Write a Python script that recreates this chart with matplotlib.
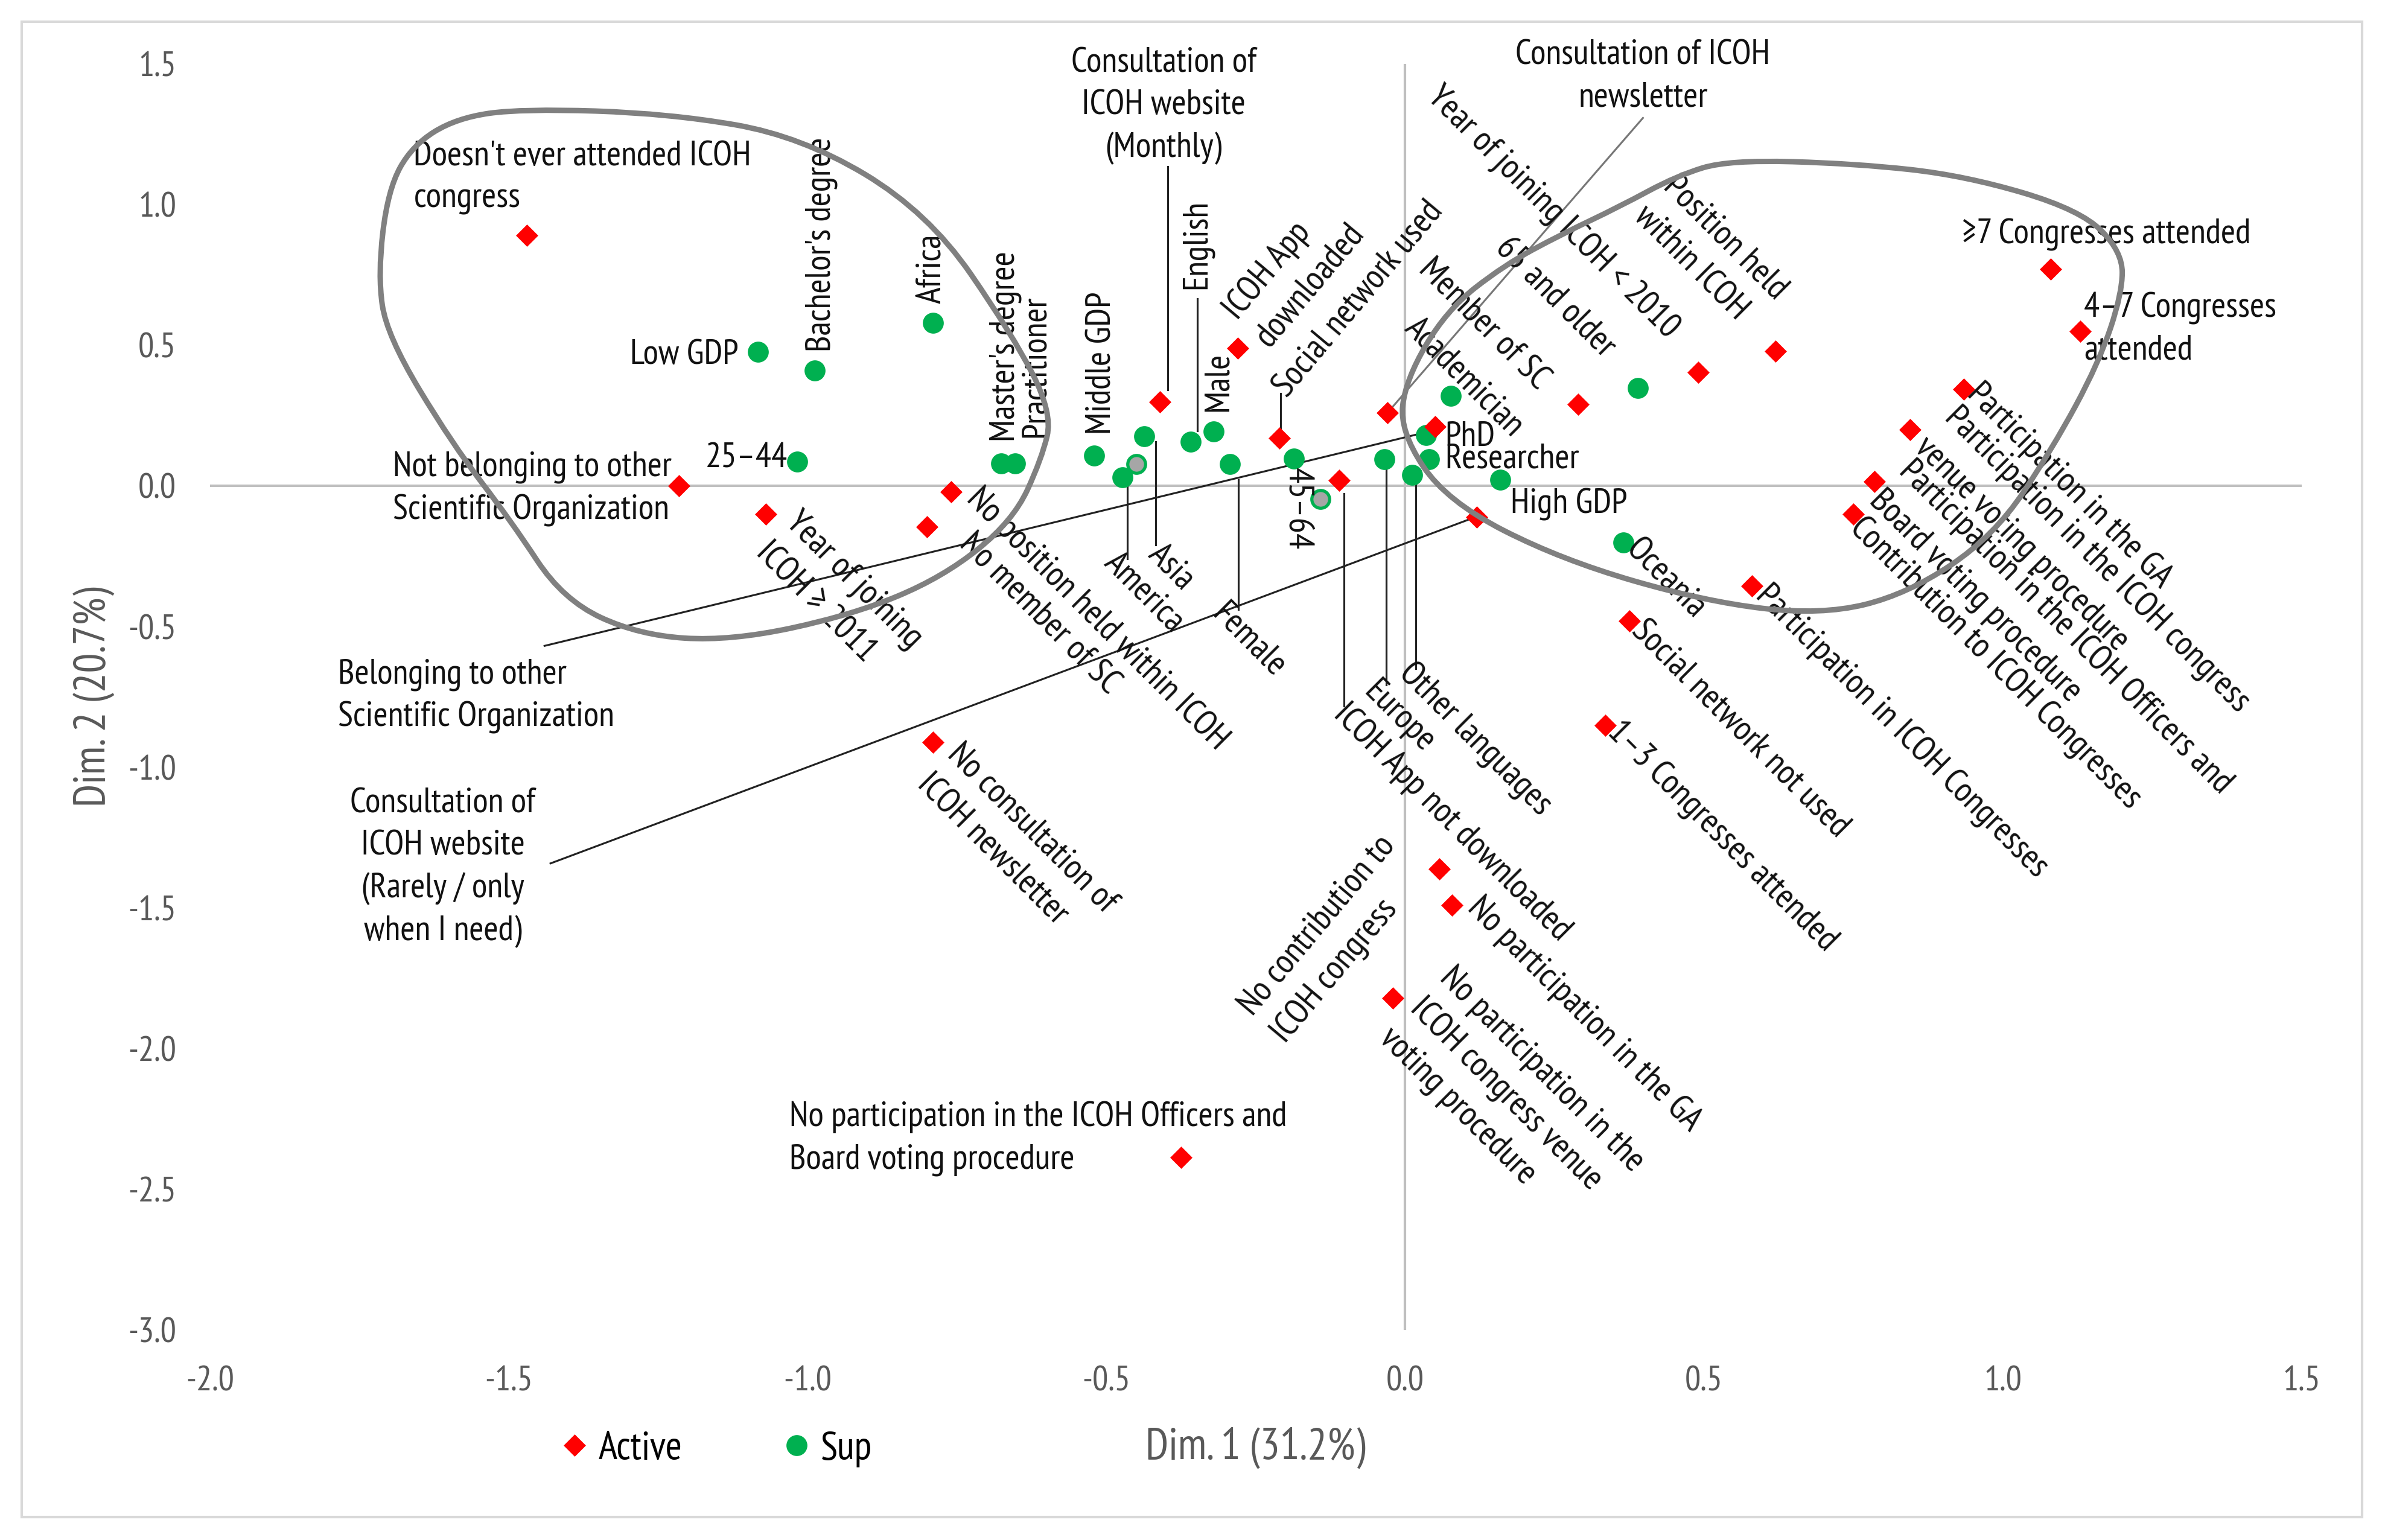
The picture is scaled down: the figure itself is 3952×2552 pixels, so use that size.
import matplotlib
matplotlib.use('Agg')
import matplotlib.pyplot as plt
from matplotlib import font_manager
from matplotlib.path import Path
from matplotlib.patches import PathPatch, Rectangle
from matplotlib.lines import Line2D


def pick_font(names):
    for name in names:
        try:
            font_manager.findfont(font_manager.FontProperties(family=name),
                                  fallback_to_default=False)
            return name
        except ValueError:
            pass
    return 'DejaVu Sans'


# the chart's lettering is tall and narrow
FONT = pick_font(['PT Sans Narrow', 'Roboto Condensed', 'Archivo Narrow', 'Lato'])
plt.rcParams['font.family'] = [FONT, 'DejaVu Sans']

RED = '#FF0000'
GREEN = '#00B050'
GRAY_TXT = '#595959'

# active categories (red diamonds)
active_labels = [
    "Doesn't ever attended ICOH\ncongress",
    'Not belonging to other\nScientific Organization',
    'Year of joining\nICOH \u2265 2011',
    'No position held within ICOH',
    'No member of SC',
    'No consultation of\nICOH newsletter',
    'Consultation of\nICOH website\n(Monthly)',
    'ICOH App\ndownloaded',
    'Social network used',
    'ICOH App not downloaded',
    'Consultation of ICOH\nnewsletter',
    'Belonging to other\nScientific Organization',
    'Consultation of\nICOH website\n(Rarely / only\nwhen I need)',
    'Member of SC',
    'Year of joining ICOH < 2010',
    'Position held\nwithin ICOH',
    '\u22657 Congresses attended',
    '4\u20137 Congresses\nattended',
    'Participation in the GA',
    'Participation in the ICOH congress\nvenue voting procedure',
    'Participation in the ICOH Officers and\nBoard voting procedure',
    'Contribution to ICOH Congresses',
    'Participation in ICOH Congresses',
    'Social network not used',
    '1\u20133 Congresses attended',
    'No contribution to\nICOH congress',
    'No participation in the GA',
    'No participation in the\nICOH congress venue\nvoting procedure',
    'No participation in the ICOH Officers and\nBoard voting procedure',
]
active_x = [-1.47, -1.215, -1.07, -0.76, -0.80, -0.79, -0.41, -0.28, -0.21, -0.11,
            -0.03, 0.05, 0.12, 0.29, 0.49, 0.62, 1.08, 1.13, 0.935, 0.845,
            0.785, 0.75, 0.58, 0.375, 0.335, 0.057, 0.078, -0.02, -0.375]
active_y = [0.89, 0.0, -0.10, -0.02, -0.145, -0.91, 0.30, 0.49, 0.17, 0.02,
            0.26, 0.21, -0.11, 0.29, 0.405, 0.48, 0.77, 0.55, 0.345, 0.20,
            0.015, -0.10, -0.355, -0.48, -0.85, -1.36, -1.49, -1.82, -2.385]

# supplementary categories (green circles)
sup_labels = ['Low GDP', "Bachelor's degree", '25\u201344', 'Africa', "Master's degree",
              'Practitioner', 'Middle GDP', 'Asia', 'America', 'English', 'Male',
              'Female', '45\u201364', 'Europe', 'Other languages', 'Academician',
              'PhD', 'Researcher', 'High GDP', '65 and older', 'Oceania']
sup_x = [-1.083, -0.988, -1.017, -0.79, -0.676, -0.653, -0.52, -0.437, -0.473, -0.359,
         -0.32, -0.293, -0.186, -0.035, 0.012, 0.076, 0.035, 0.04, 0.159, 0.389, 0.365]
sup_y = [0.476, 0.41, 0.086, 0.58, 0.08, 0.08, 0.108, 0.176, 0.03, 0.157,
         0.194, 0.078, 0.097, 0.095, 0.04, 0.32, 0.181, 0.095, 0.022, 0.349, -0.2]

# unlabeled supplementary categories (grey fill)
other_x = [-0.45, -0.142]
other_y = [0.078, -0.046]

# label placement: text -> (x, y, rotation, ha)
label_pos = {
    "Doesn't ever attended ICOH\ncongress": (-1.659, 1.095, 0, 'left'),
    'Not belonging to other\nScientific Organization': (-1.694, -0.011, 0, 'left'),
    'Year of joining\nICOH \u2265 2011': (-1.053, -0.165, -45, 'left'),
    'No position held within ICOH': (-0.725, -0.027, -45, 'left'),
    'No member of SC': (-0.738, -0.189, -45, 'left'),
    'No consultation of\nICOH newsletter': (-0.783, -0.989, -45, 'left'),
    'Consultation of\nICOH website\n(Monthly)': (-0.404, 1.351, 0, 'center'),
    'ICOH App\ndownloaded': (-0.266, 0.557, 50, 'left'),
    'Social network used': (-0.209, 0.330, 50, 'left'),
    'ICOH App not downloaded': (-0.111, -0.793, -45, 'left'),
    'Consultation of ICOH\nnewsletter': (0.398, 1.454, 0, 'center'),
    'Belonging to other\nScientific Organization': (-1.786, -0.746, 0, 'left'),
    'Consultation of\nICOH website\n(Rarely / only\nwhen I need)': (-1.610, -1.357, 0, 'center'),
    'Member of SC': (0.031, 0.786, -45, 'left'),
    'Year of joining ICOH < 2010': (0.046, 1.401, -45, 'left'),
    'Position held\nwithin ICOH': (0.416, 1.030, -45, 'left'),
    '\u22657 Congresses attended': (0.932, 0.892, 0, 'left'),
    '4\u20137 Congresses\nattended': (1.136, 0.557, 0, 'left'),
    'Participation in the GA': (0.949, 0.347, -45, 'left'),
    'Participation in the ICOH congress\nvenue voting procedure': (0.886, 0.208, -45, 'left'),
    'Participation in the ICOH Officers and\nBoard voting procedure': (0.810, 0.019, -45, 'left'),
    'Contribution to ICOH Congresses': (0.752, -0.132, -45, 'left'),
    'Participation in ICOH Congresses': (0.595, -0.373, -45, 'left'),
    'Social network not used': (0.387, -0.497, -45, 'left'),
    '1\u20133 Congresses attended': (0.346, -0.857, -45, 'left'),
    'No contribution to\nICOH congress': (-0.239, -1.917, 50, 'left'),
    'No participation in the GA': (0.113, -1.481, -45, 'left'),
    'No participation in the\nICOH congress venue\nvoting procedure': (0.016, -1.838, -45, 'left'),
    'No participation in the ICOH Officers and\nBoard voting procedure': (-1.030, -2.319, 0, 'left'),
    'Low GDP': (-1.116, 0.465, 0, 'right'),
    "Bachelor's degree": (-0.977, 0.476, 90, 'left'),
    '25\u201344': (-1.033, 0.097, 0, 'right'),
    'Africa': (-0.791, 0.649, 90, 'left'),
    "Master's degree": (-0.669, 0.157, 90, 'left'),
    'Practitioner': (-0.618, 0.173, 90, 'left'),
    'Middle GDP': (-0.507, 0.184, 90, 'left'),
    'Asia': (-0.422, -0.227, -45, 'left'),
    'America': (-0.496, -0.257, -45, 'left'),
    'English': (-0.348, 0.699, 90, 'left'),
    'Male': (-0.312, 0.265, 90, 'left'),
    'Female': (-0.314, -0.438, -45, 'left'),
    '45\u201364': (-0.180, 0.065, -90, 'left'),
    'Europe': (-0.061, -0.714, -45, 'left'),
    'Other languages': (-0.002, -0.649, -45, 'left'),
    'Academician': (0.007, 0.576, -45, 'left'),
    'PhD': (0.067, 0.173, 0, 'left'),
    'Researcher': (0.067, 0.095, 0, 'left'),
    'High GDP': (0.176, -0.065, 0, 'left'),
    '65 and older': (0.160, 0.864, -45, 'left'),
    'Oceania': (0.377, -0.208, -45, 'left'),
}

# leader lines from labels to points
leaders = [
    ((-1.440, -0.568), (0.062, 0.205), '#222222'),
    ((-1.430, -1.341), (0.113, -0.114), '#222222'),
    ((0.398, 1.308), (-0.030, 0.259), '#777777'),
    ((-0.397, 1.135), (-0.397, 0.341), '#222222'),
    ((-0.348, 0.665), (-0.348, 0.195), '#222222'),
    ((-0.208, 0.330), (-0.208, 0.190), '#222222'),
    ((-0.417, 0.157), (-0.417, -0.209), '#222222'),
    ((-0.465, 0.022), (-0.465, -0.259), '#222222'),
    ((-0.279, 0.022), (-0.279, -0.438), '#222222'),
    ((-0.102, -0.027), (-0.102, -0.782), '#222222'),
    ((-0.032, 0.081), (-0.032, -0.706), '#222222'),
    ((0.018, 0.041), (0.018, -0.649), '#222222'),
]

# hand-drawn group outlines (control polygons)
left_group = [(-1.478, 1.341), (-1.231, 1.324), (-1.010, 1.243), (-0.798, 0.973),
              (-0.656, 0.535), (-0.590, 0.259), (-0.608, 0.097), (-0.656, -0.124),
              (-0.773, -0.324), (-0.926, -0.459), (-1.129, -0.551), (-1.282, -0.530),
              (-1.409, -0.405), (-1.496, -0.124), (-1.595, 0.151), (-1.704, 0.535),
              (-1.719, 0.751), (-1.702, 1.054), (-1.661, 1.211), (-1.587, 1.308)]
right_group = [(0.069, -0.054), (-0.009, 0.195), (0.001, 0.378), (0.069, 0.624),
               (0.165, 0.784), (0.262, 0.895), (0.359, 0.993), (0.455, 1.103),
               (0.542, 1.159), (0.754, 1.146), (0.937, 1.103), (1.131, 0.981),
               (1.200, 0.832), (1.200, 0.686), (1.161, 0.438), (1.083, 0.132),
               (0.986, -0.177), (0.841, -0.384), (0.696, -0.459), (0.503, -0.411),
               (0.262, -0.263)]


def closed_curve(pts):
    n = len(pts)
    mid = lambda a, b: ((a[0] + b[0]) / 2, (a[1] + b[1]) / 2)
    verts = [mid(pts[-1], pts[0])]
    codes = [Path.MOVETO]
    for i in range(n):
        verts += [pts[i], mid(pts[i], pts[(i + 1) % n])]
        codes += [Path.CURVE3, Path.CURVE3]
    return Path(verts, codes)


DPI = 250
fig = plt.figure(figsize=(15.808, 10.208), dpi=DPI)
renderer = fig.canvas.get_renderer()


def text_width(s, size):
    t = fig.text(0, 0, s, fontsize=size)
    w = t.get_window_extent(renderer).width
    t.remove()
    return w


def fit_size(s, target_px):
    # font size giving the reference's text width (in output pixels)
    return 10.0 * target_px / text_width(s, 10.0)


FS_LAB = fit_size("Doesn't ever attended ICOH", 560)
FS_TICK = fit_size('1.5', 63)
FS_AX = fit_size('Dim. 1 (31.2%)', 365)
FS_LEG = fit_size('Active', 139)
_, lp_h, lp_d = renderer.get_text_width_height_descent(
    'lp', font_manager.FontProperties(size=FS_LAB), ismath=False)
LSP = 0.85 * 68.0 / (lp_h - lp_d)

ax = fig.add_axes([0.088, 0.1362, 0.877, 0.8223])
ax.set_xlim(-2.0, 1.5)
ax.set_ylim(-3.0, 1.5)
for s in ax.spines.values():
    s.set_visible(False)
ax.axhline(0, color='#BFBFBF', lw=1.2, zorder=1)
ax.axvline(0, color='#BFBFBF', lw=1.2, zorder=1)

xt = [-2.0, -1.5, -1.0, -0.5, 0.0, 0.5, 1.0, 1.5]
yt = [-3.0, -2.5, -2.0, -1.5, -1.0, -0.5, 0.0, 0.5, 1.0, 1.5]
ax.set_xticks(xt)
ax.set_yticks(yt)
ax.set_xticklabels(['%.1f' % v for v in xt])
ax.set_yticklabels(['%.1f' % v for v in yt])
ax.tick_params(length=0, labelsize=FS_TICK, labelcolor=GRAY_TXT)
ax.tick_params(axis='x', pad=17)
ax.tick_params(axis='y', pad=16)
ax.set_xlabel('Dim. 1 (31.2%)', fontsize=FS_AX, color=GRAY_TXT, labelpad=14)
ax.set_ylabel('Dim. 2 (20.7%)', fontsize=FS_AX, color=GRAY_TXT, labelpad=6)

for (p0, p1, c) in leaders:
    ax.plot([p0[0], p1[0]], [p0[1], p1[1]], color=c, lw=0.9, zorder=2)

ax.plot(sup_x, sup_y, ls='none', marker='o', ms=9, color=GREEN, zorder=3)
ax.plot(other_x, other_y, ls='none', marker='o', ms=8.5, mfc='#A6A6A6',
        mec=GREEN, mew=1.5, zorder=3)
ax.plot(active_x, active_y, ls='none', marker='D', ms=6.6, color=RED, zorder=4)

for lab in active_labels + sup_labels:
    lx, ly, rot, ha = label_pos[lab]
    ax.text(lx, ly, lab, rotation=rot, rotation_mode='anchor', ha=ha, va='center',
            multialignment='center' if ha == 'center' else 'left',
            fontsize=FS_LAB, color='#111111', linespacing=LSP, zorder=5)

for grp in (left_group, right_group):
    ax.add_patch(PathPatch(closed_curve(grp), fill=False, ec='#808080', lw=2.6,
                           zorder=6))

# legend: markers at the reference's pixel columns
W = 15.808 * DPI
fs_px = FS_LEG * DPI / 72.0
HL, HTP = 0.8, 0.2
act_mark, sup_mark = 952.0, 1320.0
col_sp = (sup_mark - act_mark - text_width('Active', FS_LEG) - fs_px * (HL + HTP)) / fs_px
left_edge = act_mark - HL * fs_px / 2
right_edge = sup_mark + HL * fs_px / 2 + HTP * fs_px + text_width('Sup', FS_LEG)
handles = [Line2D([], [], ls='none', marker='D', ms=6.6, color=RED),
           Line2D([], [], ls='none', marker='o', ms=9, color=GREEN)]
fig.legend(handles, ['Active', 'Sup'], loc='center',
           bbox_to_anchor=((left_edge + right_edge) / 2 / W, 0.059),
           ncol=2, frameon=False, fontsize=FS_LEG, columnspacing=col_sp,
           handletextpad=HTP, handlelength=HL)

fig.patches.append(Rectangle((0.009, 0.0148), 0.9815, 0.971, transform=fig.transFigure,
                             fill=False, ec='#D9D9D9', lw=1.2))

fig.savefig('out.png', dpi=DPI)
